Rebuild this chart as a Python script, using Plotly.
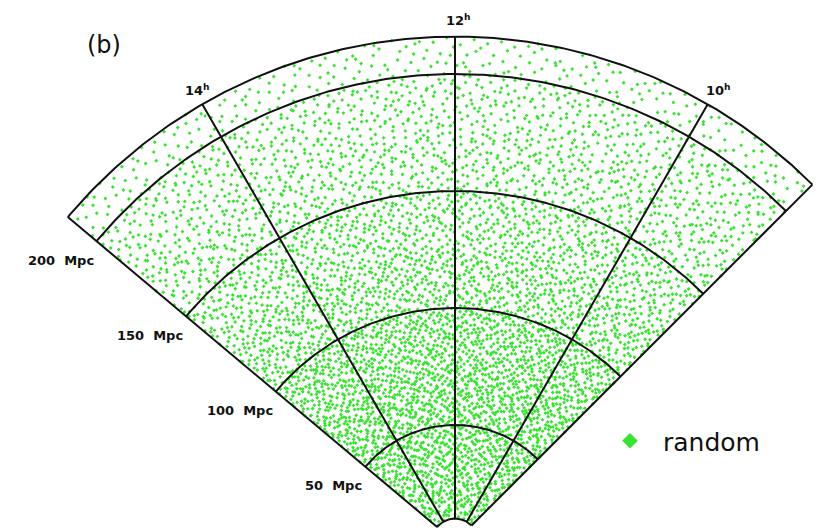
import numpy as np
import plotly.graph_objects as go

# Survey slice geometry (right ascension in hours, distance in Mpc)
ra_edges = [9.0, 15.333]
ra_grid = [10, 12, 14]
ra_labels = ["10<sup>h</sup>", "12<sup>h</sup>", "14<sup>h</sup>"]
r_inner = 10
r_outer = 216
r_grid = [50, 100, 150, 200]
r_labels = ["50 Mpc", "100 Mpc", "150 Mpc", "200 Mpc"]

# Random-catalogue point counts per distance shell
shell_edges = [10, 50, 75, 100, 125, 150, 175, 200, 216]
shell_counts = [605, 750, 900, 850, 820, 740, 690, 270]

LINE = "#111111"
GREEN = "rgb(58,226,50)"


def to_xy(r, ra):
    th = np.deg2rad((np.asarray(ra, dtype=float) - 12.0) * 15.0)
    r = np.asarray(r, dtype=float)
    return -r * np.sin(th), r * np.cos(th)


def radical_inverse(n, base):
    out = np.zeros(len(n))
    f = 1.0 / base
    n = n.copy()
    while np.any(n > 0):
        out += f * (n % base)
        n //= base
        f /= base
    return out


# Quasi-uniform (Halton 2,3) placement of catalogue points within each shell
px, py = [], []
offset = 1
for (r1, r2), cnt in zip(zip(shell_edges[:-1], shell_edges[1:]), shell_counts):
    idx = np.arange(offset, offset + cnt)
    offset += cnt
    u = radical_inverse(idx, 2)
    v = radical_inverse(idx, 3)
    rr = np.sqrt(r1 ** 2 + u * (r2 ** 2 - r1 ** 2))
    ra = ra_edges[0] + v * (ra_edges[1] - ra_edges[0])
    x, y = to_xy(rr, ra)
    px.append(x)
    py.append(y)
px = np.concatenate(px)
py = np.concatenate(py)

fig = go.Figure()
fig.add_trace(go.Scatter(
    x=px, y=py, mode="markers", name="random",
    marker=dict(symbol="diamond", size=3.0, color=GREEN, line=dict(width=0)),
    showlegend=True, hoverinfo="skip",
))

# Arcs: inner edge, distance grid and outer edge
ra_fine = np.linspace(ra_edges[0], ra_edges[1], 200)
for r in [r_inner] + r_grid + [r_outer]:
    x, y = to_xy(np.full_like(ra_fine, r), ra_fine)
    fig.add_trace(go.Scatter(x=x, y=y, mode="lines", line=dict(color=LINE, width=2),
                             showlegend=False, hoverinfo="skip"))

# Radial lines: slice edges and RA grid
for ra in ra_edges + ra_grid:
    x, y = to_xy([r_inner, r_outer], [ra, ra])
    fig.add_trace(go.Scatter(x=x, y=y, mode="lines", line=dict(color=LINE, width=2),
                             showlegend=False, hoverinfo="skip"))

W, H = 817, 528
annotations = []
for ra, lab in zip(ra_grid, ra_labels):
    x, y = to_xy(223, ra)
    annotations.append(dict(x=float(x), y=float(y), text="<b>" + lab + "</b>", showarrow=False,
                            xanchor="center", yanchor="middle", xshift=3,
                            font=dict(family="DejaVu Sans", size=13, color="#111")))
for r, lab in zip(r_grid, r_labels):
    x, y = to_xy(r, ra_edges[1])
    annotations.append(dict(x=float(x), y=float(y),
                            text="<b>" + lab.replace(" ", "&nbsp;&nbsp;") + "</b>",
                            showarrow=False, xanchor="right", yanchor="middle",
                            xshift=-1, yshift=-19,
                            font=dict(family="DejaVu Sans", size=13, color="#111")))
annotations.append(dict(x=104 / W, y=1 - 45 / H, xref="paper", yref="paper", text="(b)",
                        showarrow=False, xanchor="center", yanchor="middle",
                        font=dict(family="DejaVu Sans", size=24, color="#111")))

scale = 2.34  # px per Mpc
x0, y0 = 455.0, 542.0
fig.update_layout(
    width=W, height=H, autosize=False,
    margin=dict(l=0, r=0, t=0, b=0),
    paper_bgcolor="white", plot_bgcolor="white",
    xaxis=dict(range=[-x0 / scale, (W - x0) / scale], visible=False, fixedrange=True),
    yaxis=dict(range=[(y0 - H) / scale, y0 / scale], visible=False, fixedrange=True),
    showlegend=True,
    legend=dict(x=597 / W, y=1 - 441 / H, xanchor="left", yanchor="middle",
                bgcolor="rgba(0,0,0,0)", itemsizing="constant", itemwidth=56,
                font=dict(family="DejaVu Sans", size=25, color="#111")),
    annotations=annotations,
)

fig.write_html("out.html")
